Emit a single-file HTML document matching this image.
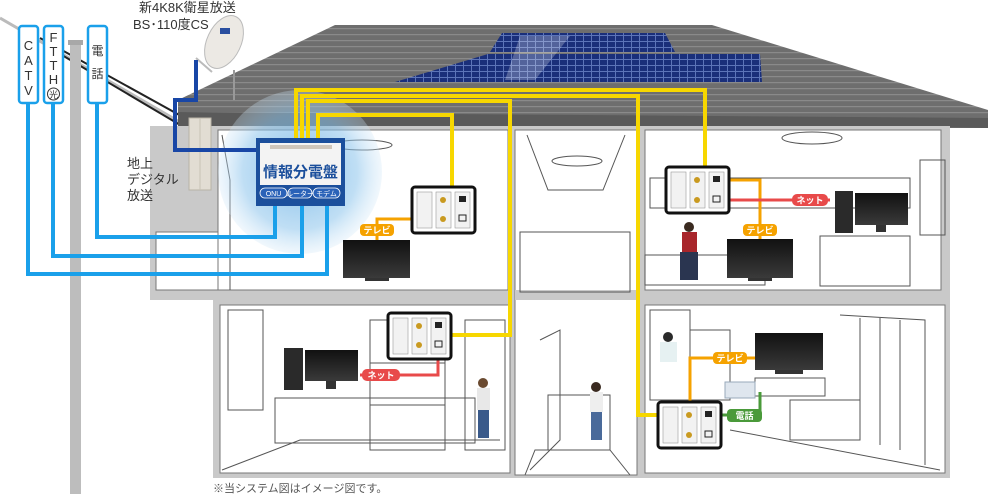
<!DOCTYPE html>
<html><head><meta charset="utf-8"><style>
html,body{margin:0;padding:0;background:#fff;}
svg{display:block;font-family:"Liberation Sans","Noto Sans CJK JP",sans-serif;}
</style></head><body>
<svg width="1000" height="494" viewBox="0 0 1000 494" xmlns="http://www.w3.org/2000/svg">
<defs>
<radialGradient id="glow" cx="50%" cy="50%" r="50%">
<stop offset="0%" stop-color="#5aa8e0" stop-opacity="0.75"/>
<stop offset="70%" stop-color="#8cc4ec" stop-opacity="0.55"/>
<stop offset="100%" stop-color="#cfe6f7" stop-opacity="0.3"/>
</radialGradient>
<linearGradient id="tv" x1="0" y1="0" x2="0" y2="1"><stop offset="0" stop-color="#111"/><stop offset="1" stop-color="#3a3a3a"/></linearGradient>
<pattern id="roofp" width="10" height="6" patternUnits="userSpaceOnUse"><rect width="10" height="6" fill="#6e6e6e"/><rect y="4" width="10" height="1.2" fill="#8a8a8a"/></pattern>
<pattern id="solar" width="8" height="6" patternUnits="userSpaceOnUse"><rect width="8" height="6" fill="#1a2f7a"/><rect x="7" width="1" height="6" fill="#5c74b8"/><rect y="5" width="8" height="1" fill="#5c74b8"/></pattern>
</defs>

<!-- cables from upper left -->
<line x1="0" y1="18" x2="190" y2="128" stroke="#bbb" stroke-width="3"/>
<line x1="40" y1="38" x2="192" y2="122" stroke="#222" stroke-width="2"/>
<line x1="50" y1="48" x2="192" y2="132" stroke="#222" stroke-width="2"/>

<!-- pole -->
<rect x="70" y="42" width="11" height="452" fill="#bdbdbd"/>
<rect x="68" y="40" width="15" height="5" fill="#a8a8a8"/>

<!-- roof -->
<polygon points="335,25 712,25 988,110 988,126 178,118 178,100" fill="url(#roofp)"/>
<polygon points="178,112 988,118 988,128 178,126" fill="#5a5a5a"/>
<!-- solar -->
<polygon points="502,33 665,33 675,52 490,52" fill="url(#solar)"/>
<polygon points="488,54 760,54 762,82 395,82" fill="url(#solar)"/>
<polygon points="520,36 570,36 535,80 505,80" fill="#ffffff" opacity="0.25"/>

<!-- house shell -->
<rect x="150" y="126" width="800" height="174" fill="#c9c9c9"/>
<rect x="213" y="300" width="737" height="178" fill="#c9c9c9"/>
<!-- upper left interior -->
<rect x="218" y="130" width="290" height="160" fill="#fff" stroke="#777"/>
<rect x="156" y="232" width="62" height="58" fill="#fff" stroke="#777"/>
<!-- stair well -->
<rect x="515" y="130" width="122" height="345" fill="#fff" stroke="#777"/>
<!-- upper right interior -->
<rect x="645" y="130" width="296" height="160" fill="#fff" stroke="#777"/>
<!-- lower rooms -->
<rect x="220" y="305" width="290" height="168" fill="#fff" stroke="#777"/>
<rect x="645" y="305" width="300" height="168" fill="#fff" stroke="#777"/>
<rect x="515" y="290" width="122" height="10" fill="#c9c9c9"/>

<!-- line-art details -->
<g fill="none" stroke="#555" stroke-width="1">
<ellipse cx="362" cy="145" rx="30" ry="5"/>
<ellipse cx="577" cy="161" rx="25" ry="5"/>
<ellipse cx="812" cy="138" rx="30" ry="6"/>
<polyline points="527,135 548,190 603,190 625,135"/>
<rect x="520" y="232" width="110" height="60"/>
<polyline points="222,135 230,180 230,290"/>
<rect x="228" y="310" width="35" height="100"/>
<rect x="275" y="398" width="200" height="45"/>
<rect x="370" y="320" width="75" height="130"/>
<line x1="370" y1="363" x2="445" y2="363"/><line x1="370" y1="405" x2="445" y2="405"/>
<rect x="465" y="320" width="40" height="130"/>
<polyline points="222,470 300,440 500,440"/>
<polyline points="540,340 560,330 560,440 530,470"/>
<rect x="548" y="395" width="62" height="55"/>
<polyline points="525,475 535,450 610,450 630,475"/>
<rect x="650" y="310" width="40" height="90"/>
<rect x="690" y="330" width="40" height="70"/>
<rect x="790" y="400" width="70" height="40"/>
<rect x="755" y="378" width="70" height="18"/>
<polyline points="840,315 925,320 925,465"/>
<line x1="860" y1="318" x2="860" y2="440"/><line x1="880" y1="318" x2="880" y2="445"/><line x1="900" y1="320" x2="900" y2="450"/>
<line x1="730" y1="430" x2="940" y2="470"/>
<rect x="820" y="236" width="90" height="50"/>
<rect x="645" y="255" width="120" height="30"/>
<rect x="650" y="178" width="260" height="30"/>
<rect x="920" y="160" width="25" height="75"/>
</g>

<!-- glow -->
<circle cx="300" cy="172" r="82" fill="url(#glow)"/>

<!-- terrestrial antenna -->
<rect x="189" y="118" width="22" height="72" fill="#e2ddd3" stroke="#b8b2a6"/>
<line x1="200" y1="118" x2="200" y2="190" stroke="#c8c2b6"/>
<!-- dish -->
<line x1="234" y1="70" x2="234" y2="100" stroke="#999" stroke-width="2"/>
<ellipse cx="224" cy="42" rx="17" ry="28" transform="rotate(25 224 42)" fill="#ece9e4" stroke="#bbb"/>
<rect x="220" y="28" width="10" height="6" fill="#2a4fa0"/>
<line x1="196" y1="58" x2="212" y2="72" stroke="#bbb" stroke-width="2"/>

<!-- dark blue cable -->
<polyline points="196,60 196,100 175,100 175,150 258,150" fill="none" stroke="#1846a6" stroke-width="4"/>

<!-- yellow lines -->
<g fill="none" stroke="#f7d700" stroke-width="4">
<polyline points="296,138 296,90 705,90 705,167"/>
<polyline points="302,138 302,96 638,96 638,415 660,415"/>
<polyline points="308,138 308,101 510,101 510,335 451,335"/>
<polyline points="318,138 318,115 452,115 452,187"/>
</g>

<!-- blue lines -->
<g fill="none" stroke="#1aa0ea" stroke-width="4">
<polyline points="28,103 28,274 327,274 327,206"/>
<polyline points="53,103 53,256 302,256 302,206"/>
<polyline points="97,103 97,237 275,237 275,206"/>
</g>

<!-- label boxes -->
<g font-size="13" fill="#333" text-anchor="middle">
<rect x="19" y="26" width="19" height="77" rx="3" fill="#fff" stroke="#1aa0ea" stroke-width="2.5"/>
<text x="28.5" y="50">C</text><text x="28.5" y="65">A</text><text x="28.5" y="80">T</text><text x="28.5" y="95">V</text>
<rect x="44" y="26" width="19" height="77" rx="3" fill="#fff" stroke="#1aa0ea" stroke-width="2.5"/>
<text x="53.5" y="42">F</text><text x="53.5" y="56">T</text><text x="53.5" y="70">T</text><text x="53.5" y="84">H</text><text x="53.5" y="98" font-size="11">㊗</text>
<rect x="88" y="26" width="19" height="77" rx="3" fill="#fff" stroke="#1aa0ea" stroke-width="2.5"/>
<text x="97.5" y="55" font-size="12">電</text><text x="97.5" y="78" font-size="12">話</text>
</g>
<rect x="46" y="86" width="15" height="15" fill="#fff"/>
<text x="53.5" y="98" font-size="11" text-anchor="middle" fill="#333" font-family="Liberation Sans,Noto Sans CJK JP,sans-serif">㊋</text>
<rect x="46" y="86" width="15" height="15" fill="#fff"/>
<circle cx="53.5" cy="94" r="6" fill="none" stroke="#333" stroke-width="1"/>
<text x="53.5" y="98" font-size="9" text-anchor="middle" fill="#333">光</text>

<text x="139" y="12" font-size="13" fill="#333">新4K8K衛星放送</text>
<text x="133" y="29" font-size="13" fill="#333">BS･110度CS</text>
<text x="127" y="168" font-size="13" fill="#333">地上</text>
<text x="127" y="184" font-size="13" fill="#333">デジタル</text>
<text x="127" y="200" font-size="13" fill="#333">放送</text>

<!-- panel -->
<rect x="256" y="138" width="89" height="68" fill="#1b4f9c"/>
<rect x="260" y="143" width="81" height="42" fill="#f3f3f3"/>
<rect x="270" y="145" width="62" height="4" fill="#cfc6bb"/>
<text x="300.5" y="177" font-size="15" font-weight="bold" fill="#1b4f9c" text-anchor="middle">情報分電盤</text>
<rect x="260" y="188" width="27" height="10" rx="5" fill="#2a62b8" stroke="#fff" stroke-width="0.8"/>
<rect x="288" y="188" width="24" height="10" rx="5" fill="#2a62b8" stroke="#fff" stroke-width="0.8"/>
<rect x="313" y="188" width="27" height="10" rx="5" fill="#2a62b8" stroke="#fff" stroke-width="0.8"/>
<g font-size="7" fill="#fff" text-anchor="middle"><text x="273.5" y="196">ONU</text><text x="300" y="196">ルーター</text><text x="326.5" y="196">モデム</text></g>

<!-- orange/red/green connectors -->
<g fill="none" stroke-width="3">
<polyline points="443,219 377,219 377,240" stroke="#f5a200"/>
<polyline points="698,180 760,180 760,239" stroke="#f5a200"/>
<polyline points="717,200 830,200" stroke="#e84a4a"/>
<polyline points="438,346 438,375 360,375" stroke="#e84a4a"/>
<polyline points="690,415 690,358 755,358" stroke="#f5a200"/>
<polyline points="710,415 760,415 760,392" stroke="#4a9a3a"/>
</g>
<g font-size="9" font-weight="bold" fill="#fff" text-anchor="middle">
<rect x="360" y="224" width="34" height="12" rx="4" fill="#f5a200"/><text x="377" y="233.5">テレビ</text>
<rect x="743" y="224" width="34" height="12" rx="4" fill="#f5a200"/><text x="760" y="233.5">テレビ</text>
<rect x="792" y="194" width="36" height="12" rx="5" fill="#e84a4a"/><text x="810" y="203.5">ネット</text>
<rect x="362" y="369" width="38" height="12" rx="5" fill="#e84a4a"/><text x="381" y="378.5">ネット</text>
<rect x="713" y="352" width="34" height="12" rx="4" fill="#f5a200"/><text x="730" y="361.5">テレビ</text>
<rect x="727" y="409" width="35" height="13" rx="4" fill="#4a9a3a"/><text x="744.5" y="419">電話</text>
</g>

<!-- outlet boxes -->
<g>
<g transform="translate(412,187)"><rect width="63" height="46" rx="3" fill="#fff" stroke="#111" stroke-width="3"/><rect x="5" y="5" width="15" height="36" fill="#f2f2f2" stroke="#999" stroke-width="0.6"/><rect x="24" y="5" width="15" height="36" fill="#f2f2f2" stroke="#999" stroke-width="0.6"/><rect x="43" y="5" width="15" height="36" fill="#f2f2f2" stroke="#999" stroke-width="0.6"/><circle cx="31" cy="13" r="3" fill="#c99a20"/><circle cx="31" cy="32" r="3" fill="#c99a20"/><rect x="47" y="9" width="7" height="6" fill="#222"/><rect x="47" y="28" width="7" height="6" fill="none" stroke="#222"/></g>
<g transform="translate(666,167)"><rect width="63" height="46" rx="3" fill="#fff" stroke="#111" stroke-width="3"/><rect x="5" y="5" width="15" height="36" fill="#f2f2f2" stroke="#999" stroke-width="0.6"/><rect x="24" y="5" width="15" height="36" fill="#f2f2f2" stroke="#999" stroke-width="0.6"/><rect x="43" y="5" width="15" height="36" fill="#f2f2f2" stroke="#999" stroke-width="0.6"/><circle cx="31" cy="13" r="3" fill="#c99a20"/><circle cx="31" cy="33" r="3" fill="#c99a20"/><rect x="47" y="9" width="7" height="6" fill="#222"/><rect x="47" y="29" width="7" height="6" fill="none" stroke="#222"/></g>
<g transform="translate(388,313)"><rect width="63" height="46" rx="3" fill="#fff" stroke="#111" stroke-width="3"/><rect x="5" y="5" width="15" height="36" fill="#f2f2f2" stroke="#999" stroke-width="0.6"/><rect x="24" y="5" width="15" height="36" fill="#f2f2f2" stroke="#999" stroke-width="0.6"/><rect x="43" y="5" width="15" height="36" fill="#f2f2f2" stroke="#999" stroke-width="0.6"/><circle cx="31" cy="13" r="3" fill="#c99a20"/><circle cx="31" cy="32" r="3" fill="#c99a20"/><rect x="47" y="9" width="7" height="6" fill="#222"/><rect x="47" y="28" width="7" height="6" fill="none" stroke="#222"/></g>
<g transform="translate(658,402)"><rect width="63" height="46" rx="3" fill="#fff" stroke="#111" stroke-width="3"/><rect x="5" y="5" width="15" height="36" fill="#f2f2f2" stroke="#999" stroke-width="0.6"/><rect x="24" y="5" width="15" height="36" fill="#f2f2f2" stroke="#999" stroke-width="0.6"/><rect x="43" y="5" width="15" height="36" fill="#f2f2f2" stroke="#999" stroke-width="0.6"/><circle cx="31" cy="13" r="3" fill="#c99a20"/><circle cx="31" cy="33" r="3" fill="#c99a20"/><rect x="47" y="9" width="7" height="6" fill="#222"/><rect x="47" y="29" width="7" height="6" fill="none" stroke="#222"/></g>
</g>

<!-- TVs and PCs -->
<rect x="343" y="240" width="67" height="38" fill="url(#tv)"/><rect x="365" y="278" width="24" height="3" fill="#333"/>
<rect x="727" y="239" width="66" height="39" fill="url(#tv)"/><rect x="748" y="278" width="24" height="3" fill="#333"/>
<rect x="855" y="193" width="53" height="32" fill="url(#tv)"/><rect x="876" y="225" width="10" height="7" fill="#333"/>
<rect x="835" y="191" width="18" height="42" fill="#2a2a2a"/>
<rect x="305" y="350" width="53" height="31" fill="url(#tv)"/><rect x="326" y="381" width="10" height="8" fill="#333"/>
<rect x="284" y="348" width="19" height="42" fill="#2a2a2a"/>
<rect x="755" y="333" width="68" height="37" fill="url(#tv)"/><rect x="775" y="370" width="28" height="4" fill="#333"/>
<rect x="725" y="382" width="30" height="16" fill="#dfe6ee" stroke="#9ab"/>

<!-- people (rough) -->
<g>
<circle cx="689" cy="227" r="5" fill="#3a2a20"/><rect x="682" y="232" width="15" height="20" fill="#a8262b"/><rect x="680" y="252" width="18" height="28" fill="#2a3550"/>
<circle cx="483" cy="383" r="5" fill="#6a4a30"/><rect x="477" y="388" width="13" height="22" fill="#e8e8e8"/><rect x="478" y="410" width="11" height="28" fill="#3a5a8a"/>
<circle cx="596" cy="387" r="5" fill="#3a2a20"/><rect x="590" y="392" width="13" height="20" fill="#eee"/><rect x="591" y="412" width="11" height="28" fill="#4a6a9a"/>
<circle cx="668" cy="337" r="5" fill="#2a2a2a"/><rect x="660" y="342" width="17" height="20" fill="#e6f1f2"/>
</g>

<text x="213" y="492" font-size="11" fill="#555">※当システム図はイメージ図です。</text>
</svg>
</body></html>
